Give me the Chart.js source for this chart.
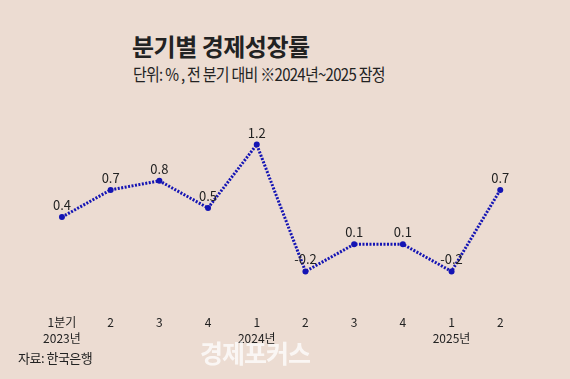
<!DOCTYPE html>
<html>
<head>
<meta charset="utf-8">
<script src="https://cdn.jsdelivr.net/npm/chart.js@4.4.0/dist/chart.umd.min.js"></script>
<style>
  html, body { margin: 0; padding: 0; }
  body { width: 570px; height: 379px; background: #ecdcd2; position: relative; overflow: hidden;
         font-family: 'Noto Sans CJK KR', sans-serif; color: #222; }
  #wrap { position: absolute; left: 0; top: 0; width: 570px; height: 379px; }
  .title { position: absolute; left: 132px; top: 28px; font-size: 24px; font-weight: 700; letter-spacing: -0.5px; }
  .sub { position: absolute; left: 133px; top: 61px; font-size: 17px; letter-spacing: -0.8px;
         transform: scaleX(0.88); transform-origin: left top; white-space: nowrap; }
  .src { position: absolute; left: 18px; top: 348px; font-size: 13px; letter-spacing: -0.5px; }
  .mark { position: absolute; left: 200px; top: 334px; font-size: 25px; font-weight: 700; color: rgba(255,255,255,0.75); letter-spacing: -1px; }
</style>
</head>
<body>
<div class="title">분기별 경제성장률</div>
<div class="sub">단위: % , 전 분기 대비 ※2024년~2025 잠정</div>
<div id="wrap"><canvas id="chart" width="570" height="379"></canvas></div>
<div class="src">자료: 한국은행</div>
<div class="mark">경제포커스</div>
<script>
const quarters = [['1분기', '2023년'], '2', '3', '4', ['1', '2024년'], '2', '3', '4', ['1', '2025년'], '2'];
const growth = [0.4, 0.7, 0.8, 0.5, 1.2, -0.2, 0.1, 0.1, -0.2, 0.7];

const valueLabels = {
    id: 'valueLabels',
    afterDatasetsDraw(chart) {
        const ctx = chart.ctx;
        const meta = chart.getDatasetMeta(0);
        ctx.save();
        ctx.font = '13px "Noto Sans CJK KR"';
        ctx.fillStyle = '#222';
        ctx.textAlign = 'center';
        ctx.textBaseline = 'middle';
        meta.data.forEach((pt, i) => {
            ctx.fillText(String(growth[i]), pt.x, pt.y - 12);
        });
        ctx.restore();
    }
};

new Chart(document.getElementById('chart'), {
    type: 'line',
    data: {
        labels: quarters,
        datasets: [{
            data: growth,
            borderColor: '#1414b4',
            borderWidth: 3,
            borderDash: [2, 1.5],
            pointRadius: 3,
            pointBackgroundColor: '#1414b4',
            pointBorderWidth: 0,
            tension: 0
        }]
    },
    options: {
        responsive: false,
        animation: false,
        layout: { padding: { left: 37.6, right: 45.4, top: 117.4, bottom: 16 } },
        plugins: { legend: { display: false }, tooltip: { enabled: false } },
        scales: {
            x: {
                offset: true,
                grid: { display: false, drawTicks: false },
                border: { display: false },
                ticks: {
                    padding: 16,
                    color: '#222',
                    maxRotation: 0,
                    autoSkip: false,
                    font: { family: 'Noto Sans CJK KR', size: 12, lineHeight: 1.35 }
                }
            },
            y: {
                display: false,
                min: -0.5,
                max: 1.5
            }
        }
    },
    plugins: [valueLabels]
});
</script>
</body>
</html>
